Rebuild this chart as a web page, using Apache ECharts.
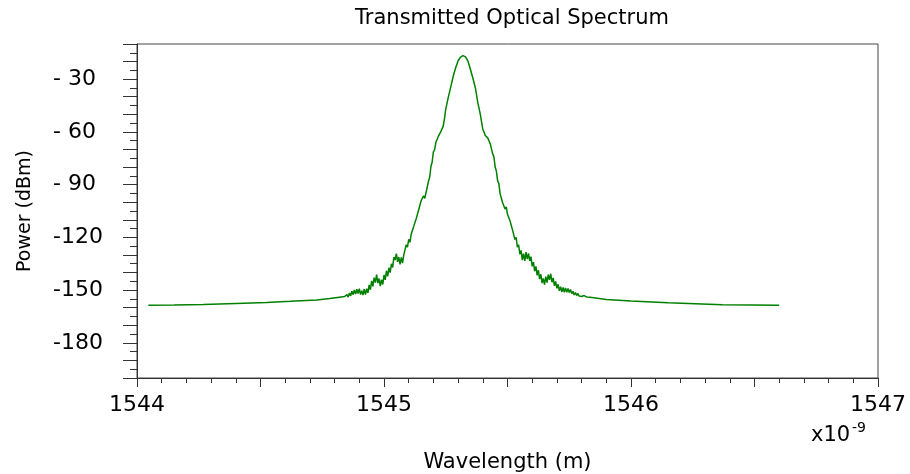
<!DOCTYPE html>
<html>
<head>
<meta charset="utf-8">
<script src="https://cdn.jsdelivr.net/npm/echarts@6/dist/echarts.min.js"></script>
<style>
html,body{margin:0;padding:0;background:#fff;}
#chart{width:910px;height:474px;}
</style>
</head>
<body>
<div id="chart"></div>
<script>
// Transmitted optical spectrum, wavelength in nm (axis shown x10^-9 m), power in dBm
const titleText = 'Transmitted Optical Spectrum';
const xName = 'Wavelength (m)';
const yName = 'Power (dBm)';
const xTicks = [1544, 1545, 1546, 1547];
const yTicks = [-30, -60, -90, -120, -150, -180];

const tailLeft = [
  [1544.046,-158.6],[1544.150,-158.5],[1544.268,-158.2],[1544.400,-157.6],[1544.525,-157.0],
  [1544.620,-156.4],[1544.728,-155.6],[1544.780,-154.8],[1544.820,-154.0],[1544.840,-153.7]
];
const wingLeft = [
  [1544.850,-152.6],[1544.855,-154.0],[1544.860,-151.7],[1544.865,-153.3],[1544.870,-150.6],
  [1544.875,-152.6],[1544.880,-149.9],[1544.885,-152.2],[1544.890,-149.5],[1544.895,-152.0],
  [1544.900,-149.2],[1544.905,-152.5],[1544.910,-150.3],[1544.915,-152.8],[1544.920,-149.5],
  [1544.925,-152.6],[1544.930,-149.2],[1544.935,-151.6],[1544.940,-147.0],[1544.945,-149.8],
  [1544.950,-144.8],[1544.955,-147.9],[1544.960,-142.9],[1544.965,-145.7],[1544.970,-141.2],
  [1544.975,-146.0],[1544.980,-143.4],[1544.985,-147.8],[1544.990,-144.0],[1544.995,-146.8],
  [1545.000,-141.4],[1545.005,-144.2],[1545.010,-139.0],[1545.015,-142.1],[1545.020,-137.3],
  [1545.025,-140.0],[1545.030,-135.0],[1545.035,-137.1],[1545.040,-131.2],[1545.045,-132.9],
  [1545.050,-129.3],[1545.055,-133.9],[1545.060,-131.2],[1545.065,-135.3],[1545.070,-131.4],
  [1545.075,-134.7],[1545.080,-130.0],[1545.085,-130.7],[1545.090,-124.2],[1545.095,-125.6],
  [1545.100,-121.1],[1545.105,-122.8],[1545.110,-118.2],[1545.115,-119.2],[1545.120,-113.9],
  [1545.125,-114.4],[1545.130,-109.5],[1545.135,-109.9],[1545.140,-104.6],[1545.145,-104.8],
  [1545.150,-99.3],[1545.155,-99.8],[1545.160,-96.3],[1545.165,-97.8],[1545.170,-94.6],
  [1545.175,-94.4],[1545.180,-88.1],[1545.185,-85.8],[1545.190,-79.7],[1545.195,-77.1],
  [1545.200,-71.3],[1545.205,-70.1],[1545.210,-65.9],[1545.215,-65.1],[1545.220,-62.6],
  [1545.225,-62.5],[1545.230,-59.9],[1545.235,-59.2],[1545.240,-56.6],[1545.245,-52.3],
  [1545.250,-47.0]
];
const peak = [
  [1545.260,-40.5],[1545.270,-34.5],[1545.280,-28.5],[1545.290,-23.5],[1545.300,-19.5],
  [1545.310,-17.5],[1545.315,-16.9],[1545.320,-16.6],[1545.325,-16.8],[1545.330,-17.3],
  [1545.340,-19.8],[1545.350,-24.5],[1545.360,-29.5],[1545.370,-35.0],[1545.380,-43.5],
  [1545.390,-50.0],[1545.400,-58.5]
];
const wingRight = [
  [1545.405,-60.1],[1545.410,-62.0],[1545.415,-61.7],[1545.420,-63.4],[1545.425,-63.8],
  [1545.430,-66.7],[1545.435,-67.7],[1545.440,-72.5],[1545.445,-74.2],[1545.450,-80.0],
  [1545.455,-82.3],[1545.460,-87.9],[1545.465,-89.4],[1545.470,-95.1],[1545.475,-95.4],
  [1545.480,-100.2],[1545.485,-99.6],[1545.490,-103.9],[1545.495,-102.7],[1545.500,-106.9],
  [1545.505,-105.8],[1545.510,-110.5],[1545.515,-110.0],[1545.520,-115.6],[1545.525,-115.2],
  [1545.530,-121.2],[1545.535,-120.0],[1545.540,-125.6],[1545.545,-124.2],[1545.550,-129.6],
  [1545.555,-127.4],[1545.560,-133.0],[1545.565,-129.3],[1545.570,-133.4],[1545.575,-128.4],
  [1545.580,-132.3],[1545.585,-129.1],[1545.590,-133.4],[1545.595,-131.0],[1545.600,-136.5],
  [1545.605,-134.1],[1545.610,-139.2],[1545.615,-136.5],[1545.620,-141.6],[1545.625,-138.6],
  [1545.630,-143.7],[1545.635,-141.0],[1545.640,-146.0],[1545.645,-143.4],[1545.650,-146.9],
  [1545.655,-142.3],[1545.660,-145.7],[1545.665,-141.2],[1545.670,-144.1],[1545.675,-140.7],
  [1545.680,-145.5],[1545.685,-143.1],[1545.690,-147.6],[1545.695,-145.1],[1545.700,-149.0],
  [1545.705,-146.7],[1545.710,-150.4],[1545.715,-148.0],[1545.720,-151.0],[1545.725,-148.5],
  [1545.730,-151.2],[1545.735,-148.8],[1545.740,-151.3],[1545.745,-149.1],[1545.750,-151.4],
  [1545.755,-149.6],[1545.760,-152.0],[1545.765,-150.7],[1545.770,-152.8],[1545.775,-151.4],
  [1545.780,-153.1],[1545.785,-151.9],[1545.790,-153.4],[1545.795,-152.5],[1545.800,-153.6]
];
const tailRight = [
  [1545.810,-153.1],[1545.820,-153.9],[1545.834,-154.0],[1545.900,-155.3],[1546.000,-156.2],
  [1546.150,-157.2],[1546.370,-158.4],[1546.600,-158.6]
];

const spectrum = tailLeft.concat(wingLeft, peak, wingRight, tailRight);

const FONT = 'DejaVu Sans';
const chart = echarts.init(document.getElementById('chart'), null, {renderer: 'canvas'});
chart.setOption({
  animation: false,
  backgroundColor: '#ffffff',
  title: {
    text: titleText,
    left: 507,
    textAlign: 'center',
    top: 3,
    textStyle: {fontFamily: FONT, fontSize: 21, fontWeight: 'normal', color: '#000'}
  },
  grid: {
    left: 137, right: 32, top: 44, bottom: 96,
    containLabel: false, outerBoundsMode: 'none',
    show: true, borderColor: '#444', borderWidth: 1
  },
  xAxis: {
    type: 'value', min: 1544, max: 1547, interval: 0.5,
    name: xName, nameLocation: 'middle', nameGap: 74,
    nameTextStyle: {fontFamily: FONT, fontSize: 21, color: '#000'},
    axisLine: {show: true, lineStyle: {color: '#333', width: 1}},
    axisTick: {show: true, length: 9, inside: false, lineStyle: {color: '#333'}},
    minorTick: {show: true, splitNumber: 5, length: 5, lineStyle: {color: '#333'}},
    splitLine: {show: false},
    axisLabel: {
      margin: 16, fontFamily: FONT, fontSize: 22, color: '#000',
      formatter: v => xTicks.some(t => Math.abs(t - v) < 1e-6) ? String(Math.round(v)) : ''
    }
  },
  yAxis: {
    type: 'value', min: -200, max: -10, interval: 10,
    name: yName, nameLocation: 'middle', nameGap: 102, nameRotate: 90,
    nameTextStyle: {fontFamily: FONT, fontSize: 19, color: '#000'},
    axisLine: {show: true, lineStyle: {color: '#333', width: 1}},
    axisTick: {show: true, length: 14, lineStyle: {color: '#333'}},
    minorTick: {show: true, splitNumber: 2, length: 7, lineStyle: {color: '#333'}},
    splitLine: {show: false},
    axisLabel: {
      margin: 84, align: 'left', fontFamily: FONT, fontSize: 22, color: '#000',
      formatter: v => yTicks.includes(Math.round(v)) ? (v > -100 ? '- ' + Math.round(-v) : String(Math.round(v))) : ''
    }
  },
  graphic: [
    {type: 'text', left: 811, top: 425, style: {text: 'x10', fontFamily: FONT, fontSize: 21, fill: '#000'}},
    {type: 'text', left: 852, top: 421, style: {text: '-9', fontFamily: FONT, fontSize: 14, fill: '#000'}}
  ],
  series: [{
    type: 'line',
    data: spectrum,
    showSymbol: false,
    symbol: 'none',
    sampling: null,
    lineStyle: {color: '#008000', width: 1.5},
    z: 3
  }]
});
</script>
</body>
</html>
